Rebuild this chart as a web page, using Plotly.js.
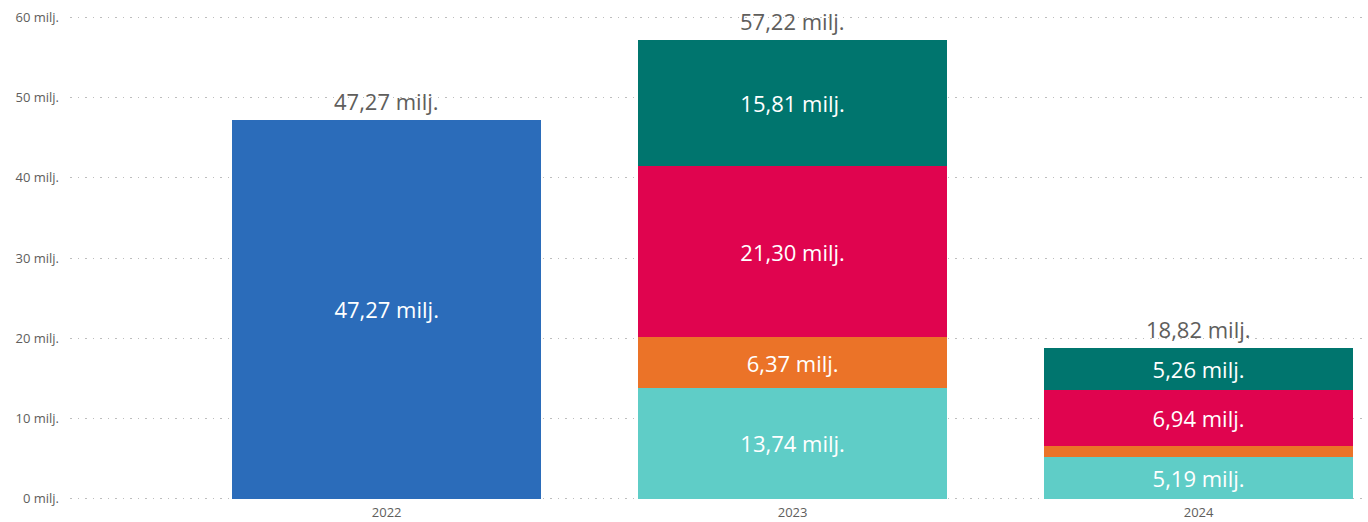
<!DOCTYPE html>
<html><head><meta charset="utf-8">
<script src="https://cdn.plot.ly/plotly-3.0.1.min.js"></script>
<style>body{margin:0;background:#fff}#c{width:1368px;height:522px}</style>
</head><body><div id="c"></div>
<script>
const years = ['2022', '2023', '2024'];
const seriesBlue = [47.27, null, null];
const seriesLightTeal = [null, 13.74, 5.19];
const seriesOrange = [null, 6.37, 1.43];
const seriesRed = [null, 21.30, 6.94];
const seriesDarkTeal = [null, 15.81, 5.26];
const totals = [47.27, 57.22, 18.82];
const yTicks = [0, 10, 20, 30, 40, 50, 60];
const hideLabel = [false, false, true]; // small orange 2024 segment label hidden

const fmt = v => v == null ? '' : v.toFixed(2).replace('.', ',') + ' milj.';
const font = "Segoe UI, Open Sans, Noto Sans, sans-serif";

function barTrace(vals, color, hide) {
  return {
    type: 'bar', x: years, y: vals,
    marker: {color: color, line: {width: 0}},
    width: 0.76,
    text: vals.map((v, i) => (hide && hide[i]) ? '' : fmt(v)),
    textposition: 'inside', insidetextanchor: 'middle',
    constraintext: 'none',
    textfont: {family: font, size: 22, color: '#ffffff'},
    hoverinfo: 'skip', showlegend: false
  };
}

const data = [
  barTrace(seriesBlue, '#2B6CBA'),
  barTrace(seriesLightTeal, '#5FCDC7'),
  barTrace(seriesOrange, '#EB7328', hideLabel),
  barTrace(seriesRed, '#E0044F'),
  barTrace(seriesDarkTeal, '#00756E')
];

const annotations = totals.map((t, i) => ({
  x: i, y: t, xref: 'x', yref: 'y',
  text: fmt(t), showarrow: false,
  xanchor: 'center', yanchor: 'middle', yshift: 19,
  font: {family: font, size: 22, color: '#605E5C'}
}));

const layout = {
  width: 1368, height: 522,
  margin: {l: 70, r: 3, t: 15, b: 21},
  barmode: 'stack',
  paper_bgcolor: '#ffffff', plot_bgcolor: '#ffffff',
  font: {family: font, color: '#605E5C'},
  annotations: annotations,
  xaxis: {
    type: 'category', range: [-0.78, 2.41],
    showgrid: false, zeroline: false, showline: false, ticks: '',
    ticklabelstandoff: 2,
    tickfont: {size: 13, color: '#605E5C'}
  },
  yaxis: {
    range: [-0.3, 60.3], tickmode: 'array', tickvals: yTicks,
    ticktext: yTicks.map(v => v + ' milj.'),
    showgrid: true, gridcolor: '#BDBDBD', griddash: '1.5px,6px', gridwidth: 1,
    zeroline: false, showline: false, ticks: '',
    ticklabelstandoff: 10,
    tickfont: {size: 13, color: '#605E5C'}
  }
};

Plotly.newPlot('c', data, layout, {displayModeBar: false, staticPlot: true});
</script>
</body></html>
